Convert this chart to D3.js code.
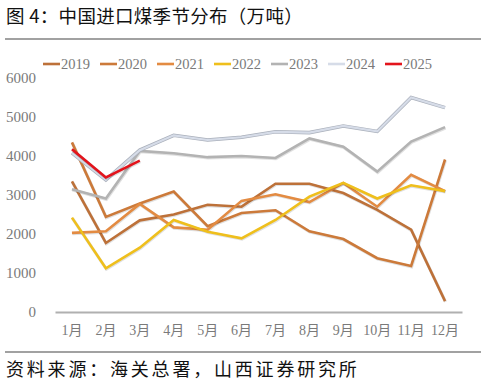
<!DOCTYPE html>
<html><head><meta charset="utf-8">
<script src="https://cdn.jsdelivr.net/npm/d3@7"></script>
<style>body{margin:0;background:#fff}svg{display:block}</style>
</head><body><svg id="c" width="485" height="392"></svg>
<script>
const months = ["1月","2月","3月","4月","5月","6月","7月","8月","9月","10月","11月","12月"];
const yTicks = [0,1000,2000,3000,4000,5000,6000];
const s2019 = [3350,1770,2350,2500,2750,2700,3290,3290,3050,2620,2110,280];
const s2020 = [4350,2440,2780,3090,2200,2540,2610,2070,1870,1380,1180,3910];
const s2021 = [2030,2070,2770,2170,2110,2850,3020,2820,3310,2700,3520,3100];
const s2022 = [2420,1120,1650,2360,2060,1890,2360,2960,3310,2910,3250,3100];
const s2023 = [3150,2910,4130,4070,3970,4000,3950,4450,4240,3600,4370,4740];
const s2024 = [4080,3390,4150,4530,4410,4480,4620,4600,4770,4630,5500,5240];
const s2025 = [4170,3450,3880];
const seriesNames = ["2019","2020","2021","2022","2023","2024","2025"];
const seriesData = [s2019,s2020,s2021,s2022,s2023,s2024,s2025];
const colors = ["#bd7139","#cc7a3a","#e38b42","#efbf1c","#b3b3b3","#d6dce8","#e3141c"];

const svg = d3.select("#c");
const serif = "'Liberation Serif','Noto Sans CJK SC',serif";
const cjk = "'Noto Sans CJK SC',sans-serif";

svg.append("text").attr("x",6).attr("y",23).attr("font-family",cjk).attr("font-size",18.5).attr("letter-spacing",0.3).attr("fill","#111").text("图 4：中国进口煤季节分布（万吨）");
svg.append("line").attr("x1",5).attr("x2",481).attr("y1",39).attr("y2",39).attr("stroke","#444").attr("stroke-width",1.2);
svg.append("line").attr("x1",5).attr("x2",481).attr("y1",352).attr("y2",352).attr("stroke","#444").attr("stroke-width",1.2);
svg.append("text").attr("x",6).attr("y",376).attr("font-family",cjk).attr("font-size",18).attr("letter-spacing",2.8).attr("fill","#111").text("资料来源：海关总署，山西证券研究所");

const x = d3.scaleBand().domain(months).range([55,462]);
const y = d3.scaleLinear().domain([0,6000]).range([312,78]);

// y labels
svg.append("g").selectAll("text").data(yTicks).join("text")
  .attr("x",36).attr("y",d=>y(d)+5).attr("text-anchor","end")
  .attr("font-family",serif).attr("font-size",15).attr("fill","#7a7a7a").text(d=>d);

// x axis
const xa = svg.append("g").attr("transform","translate(0,312)").call(d3.axisBottom(x).tickSize(0).tickPadding(13));
xa.select(".domain").attr("stroke","#b0b0b0").attr("stroke-width",2);
xa.selectAll("text").attr("font-family",serif).attr("font-size",14).attr("fill","#7a7a7a");

const line = d3.line().x((d,i)=>x(months[i])+x.bandwidth()/2).y(d=>y(d));
const g = svg.append("g");
seriesData.forEach((s,k)=>{
  if(k===5){
    g.append("path").attr("d",line(s)).attr("fill","none").attr("stroke","#aab0bb").attr("stroke-width",3.6).attr("stroke-linejoin","miter");
  } else {
    g.append("path").attr("d",line(s)).attr("fill","none").attr("stroke","rgba(0,0,0,0.12)").attr("stroke-width",3.2).attr("transform","translate(0.5,0.8)");
  }
  g.append("path").attr("d",line(s)).attr("fill","none").attr("stroke",colors[k]).attr("stroke-width",k===5?2.2:2.6).attr("stroke-linejoin","miter");
});

// legend
const lg = svg.append("g");
seriesNames.forEach((n,k)=>{
  const lx = 43 + k*57;
  lg.append("line").attr("x1",lx).attr("x2",lx+17).attr("y1",64).attr("y2",64).attr("stroke",colors[k]).attr("stroke-width",2.6);
  lg.append("text").attr("x",lx+18).attr("y",69).attr("font-family",serif).attr("font-size",14.5).attr("fill","#7a7a7a").text(n);
});
</script></body></html>
